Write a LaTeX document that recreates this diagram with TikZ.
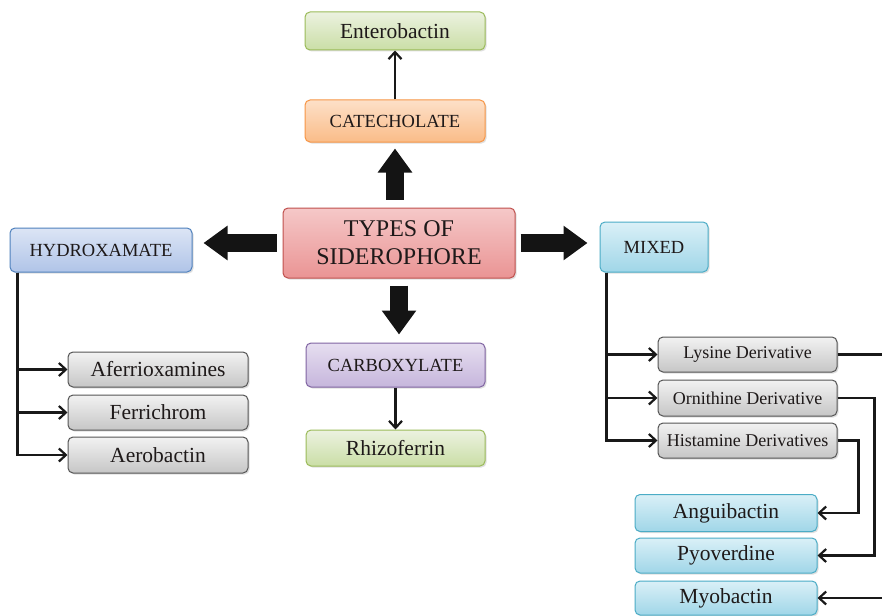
\documentclass[tikz,border=0pt]{standalone}
\usepackage{fontspec}
\setmainfont{Liberation Serif}
\usetikzlibrary{arrows.meta,shadows}
\definecolor{grB}{RGB}{155,187,89}\definecolor{grT}{RGB}{236,242,224}\definecolor{grD}{RGB}{202,222,166}
\definecolor{orB}{RGB}{247,150,70}\definecolor{orT}{RGB}{253,224,200}\definecolor{orD}{RGB}{250,188,136}
\definecolor{rdB}{RGB}{192,80,77}\definecolor{rdT}{RGB}{245,200,200}\definecolor{rdD}{RGB}{234,148,148}
\definecolor{blB}{RGB}{79,129,189}\definecolor{blT}{RGB}{220,229,245}\definecolor{blD}{RGB}{176,196,232}
\definecolor{puB}{RGB}{128,100,162}\definecolor{puT}{RGB}{230,222,240}\definecolor{puD}{RGB}{198,182,220}
\definecolor{aqB}{RGB}{75,172,198}\definecolor{aqT}{RGB}{218,240,247}\definecolor{aqD}{RGB}{160,214,232}
\definecolor{gyB}{RGB}{85,85,85}\definecolor{gyT}{RGB}{242,242,242}\definecolor{gyD}{RGB}{198,198,198}
\definecolor{ink}{RGB}{30,25,25}
\begin{document}
\begin{tikzpicture}[x=1pt,y=-1pt,
  box/.style={draw, rounded corners=5pt, line width=1pt, text=ink, align=center, inner sep=0pt,
    drop shadow={shadow xshift=1.5pt, shadow yshift=-1.5pt, opacity=0.25}},
  greenbox/.style={box, draw=grB, top color=grT, bottom color=grD},
  orangebox/.style={box, draw=orB, top color=orT, bottom color=orD},
  redbox/.style={box, draw=rdB, top color=rdT, bottom color=rdD},
  bluebox/.style={box, draw=blB, top color=blT, bottom color=blD},
  purplebox/.style={box, draw=puB, top color=puT, bottom color=puD},
  aquabox/.style={box, draw=aqB, top color=aqT, bottom color=aqD},
  graybox/.style={box, draw=gyB, top color=gyT, bottom color=gyD},
  bigf/.style={font=\fontsize{21.5}{24}\selectfont},
  capf/.style={font=\fontsize{18.5}{22}\selectfont},
  smallf/.style={font=\fontsize{18}{20}\selectfont},
  mainf/.style={font=\fontsize{24}{28}\selectfont},
  bigarrow/.style={line width=18pt, black!92, -{Triangle[length=24pt,width=33pt]}},
  conn/.style={line width=2.2pt, black!90, -{Straight Barb[length=7pt,width=13pt]}},
]
\clip (0,0) rectangle (882,615);
\fill[white] (0,0) rectangle (882,615);

\node[redbox, mainf, minimum width=232pt, minimum height=70pt] (main) at (399,243) {TYPES OF\\SIDEROPHORE};
\node[greenbox, bigf, minimum width=180pt, minimum height=38pt] (ent) at (395,31) {Enterobactin};
\node[orangebox, capf, minimum width=180pt, minimum height=42pt] (cat) at (395,121) {CATECHOLATE};
\node[bluebox, capf, minimum width=182pt, minimum height=44pt] (hyd) at (101,250) {HYDROXAMATE};
\node[aquabox, capf, minimum width=108pt, minimum height=50pt] (mix) at (654,247) {MIXED};
\node[purplebox, capf, minimum width=179pt, minimum height=44pt] (carb) at (395.5,365) {CARBOXYLATE};
\node[greenbox, bigf, minimum width=179pt, minimum height=36pt] (rhiz) at (395.5,448) {Rhizoferrin};

\node[graybox, bigf, minimum width=180pt, minimum height=35pt] (afe) at (158,369.5) {Aferrioxamines};
\node[graybox, bigf, minimum width=180pt, minimum height=35pt] (fer) at (158,412.5) {Ferrichrom};
\node[graybox, bigf, minimum width=180pt, minimum height=36pt] (aer) at (158,455) {Aerobactin};

\node[graybox, smallf, minimum width=179pt, minimum height=35pt] (lys) at (747.5,354.5) {Lysine Derivative};
\node[graybox, smallf, minimum width=179pt, minimum height=36pt] (orn) at (747.5,398) {Ornithine Derivative};
\node[graybox, smallf, minimum width=179pt, minimum height=35pt] (his) at (747.5,440.5) {Histamine Derivatives};

\node[aquabox, bigf, minimum width=182pt, minimum height=37pt] (ang) at (726,513) {Anguibactin};
\node[aquabox, bigf, minimum width=182pt, minimum height=35pt] (pyo) at (726,555.5) {Pyoverdine};
\node[aquabox, bigf, minimum width=182pt, minimum height=34pt] (myo) at (726,598) {Myobactin};

% thick arrows
\draw[bigarrow, shorten <=8pt, shorten >=6pt] (cat.south |- main.north) -- (cat.south);
\draw[bigarrow, shorten <=6pt, shorten >=11pt] (main.west) -- (main.west -| hyd.east);
\draw[bigarrow, shorten <=5pt, shorten >=12pt] (main.east) -- (main.east -| mix.west);
\draw[bigarrow, shorten <=7pt, shorten >=8pt] (main.south) -- (main.south |- carb.north);

% thin connectors
\draw[conn] (cat.north) -- (ent.south);
\draw[conn] (carb.south) -- (rhiz.north);

\draw[conn] ([xshift=8pt]hyd.south west) |- (afe.west);
\draw[conn] ([xshift=8pt]hyd.south west) |- (fer.west);
\draw[conn] ([xshift=8pt]hyd.south west) |- (aer.west);

\draw[conn] ([xshift=7pt]mix.south west) |- (lys.west);
\draw[conn] ([xshift=7pt]mix.south west) |- (orn.west);
\draw[conn] ([xshift=7pt]mix.south west) |- (his.west);

\draw[conn] (his.east) -- ++(21,0) |- (ang.east);
\draw[conn] (orn.east) -- ++(37,0) |- (pyo.east);
\draw[conn] (lys.east) -- ++(52,0) |- (myo.east);
\end{tikzpicture}
\end{document}
